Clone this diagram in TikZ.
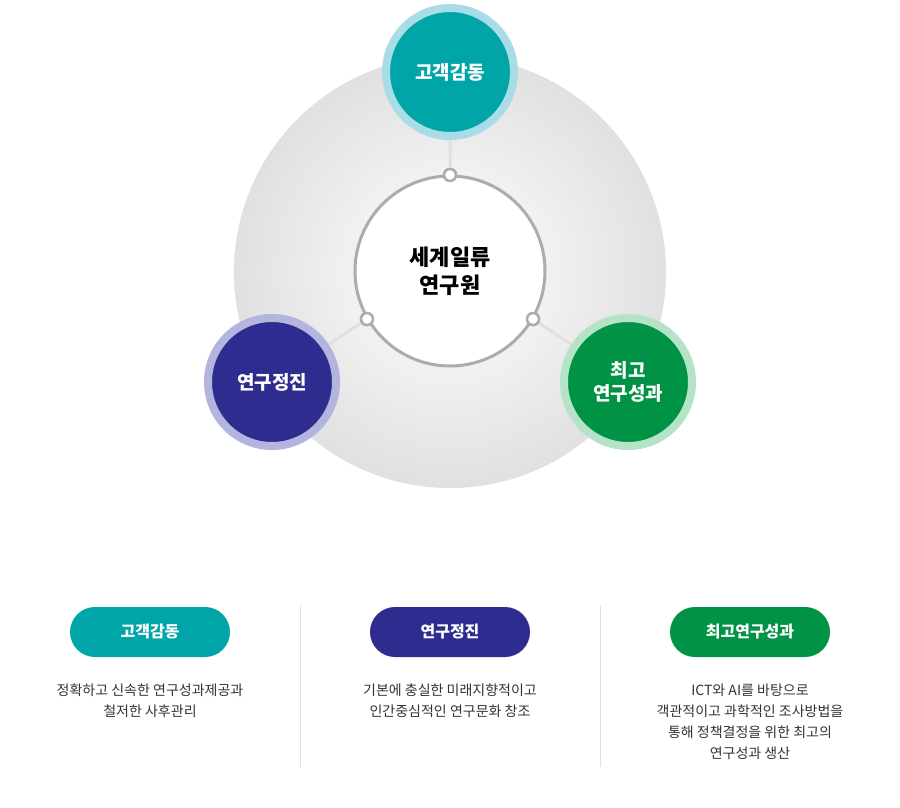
\documentclass[tikz,border=0pt]{standalone}
\usepackage{fontspec}
\setmainfont{Noto Sans CJK KR}
\begin{document}
\begin{tikzpicture}[x=1pt,y=-1pt,
  big/.style={circle,minimum size=128pt,inner sep=0pt,text=white,font=\bfseries\fontsize{19}{23}\selectfont,align=center,line width=8pt},
  dot/.style={circle,draw=gray!65,fill=white,line width=2.5pt,minimum size=12pt,inner sep=0pt},
  pill/.style={rounded corners=25pt,minimum width=160pt,minimum height=50pt,text=white,font=\bfseries\fontsize{16}{19}\selectfont},
  desc/.style={align=center,font=\fontsize{14}{21}\selectfont,text=black!80}]
\useasboundingbox (0,0) rectangle (900,807);
\fill[white] (0,0) rectangle (900,807);
\shade[inner color=white,outer color=black!12] (450,272) circle (216);
\coordinate (c) at (450,271);
\node[dot] (d1) at (450,175) {};
\node[dot] (d2) at (367,319) {};
\node[dot] (d3) at (533,319) {};
\node[big,fill={rgb,255:red,0;green,165;blue,168},draw={rgb,255:red,168;green,221;blue,232}] (n1) at (450,72) {고객감동};
\node[big,fill={rgb,255:red,46;green,45;blue,143},draw={rgb,255:red,179;green,181;blue,224}] (n2) at (272,382) {연구정진};
\node[big,fill={rgb,255:red,0;green,146;blue,69},draw={rgb,255:red,181;green,227;blue,200}] (n3) at (628,382) {최고\\연구성과};
\draw[black!12,line width=3pt] (d1) -- (n1) (d2) -- (n2) (d3) -- (n3);
\draw[gray!65,line width=3pt,fill=white] (c) circle (95);
\node[dot] at (450,175) {};
\node[dot] at (367,319) {};
\node[dot] at (533,319) {};
\node[font=\bfseries\fontsize{22}{28}\selectfont,align=center] (t) at (c) {세계일류\\연구원};
\node[pill,fill={rgb,255:red,0;green,165;blue,168}] (p1) at (150,632) {고객감동};
\node[pill,fill={rgb,255:red,46;green,45;blue,143}] (p2) at (450,632) {연구정진};
\node[pill,fill={rgb,255:red,0;green,146;blue,69}] (p3) at (750,632) {최고연구성과};
\coordinate (a1) at (300,605); \coordinate (a2) at (300,767);
\coordinate (b1) at (600,605); \coordinate (b2) at (600,767);
\draw[black!12,line width=1pt] (a1) -- (a2) (b1) -- (b2);
\node[desc,anchor=north] (e1) at (150,680) {정확하고 신속한 연구성과제공과\\철저한 사후관리};
\node[desc,anchor=north] (e2) at (450,680) {기본에 충실한 미래지향적이고\\인간중심적인 연구문화 창조};
\node[desc,anchor=north] (e3) at (750,680) {ICT와 AI를 바탕으로\\객관적이고 과학적인 조사방법을\\통해 정책결정을 위한 최고의\\연구성과 생산};
\end{tikzpicture}
\end{document}
